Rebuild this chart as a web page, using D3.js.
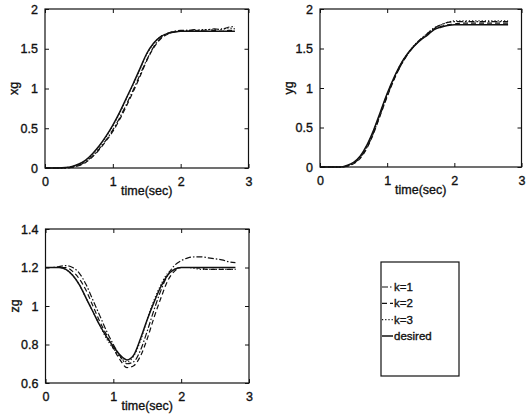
<html>
<head>
<meta charset="UTF-8">
<script src="https://d3js.org/d3.v7.min.js"></script>
<style>
  body { margin: 0; background: white; }
  text { font-family: "Liberation Sans", Arial, sans-serif; fill: #111; stroke: #111; stroke-width: 0.35px; }
</style>
</head>
<body>
<svg id="chart"></svg>
<script>
let width = 529;
let height = 419;

// time grid (sec)
let time = [0,0.1,0.2,0.3,0.4,0.5,0.6,0.7,0.8,0.9,1.0,1.1,1.2,1.3,1.4,1.5,1.6,1.7,1.8,1.9,2.0,2.1,2.2,2.3,2.4,2.5,2.6,2.7,2.8];

let xgDesired = [0,0,0,0.005,0.02,0.05,0.1,0.18,0.28,0.4,0.54,0.7,0.88,1.06,1.25,1.44,1.57,1.65,1.69,1.71,1.72,1.72,1.72,1.72,1.72,1.72,1.72,1.72,1.72];
let xgK1 = [0,0,0,0,0.01,0.035,0.08,0.15,0.24,0.35,0.48,0.63,0.8,0.98,1.17,1.36,1.52,1.63,1.69,1.72,1.73,1.73,1.74,1.73,1.74,1.75,1.74,1.77,1.78];
let xgK2 = [0,0,0,0,0.01,0.03,0.07,0.14,0.23,0.34,0.46,0.61,0.78,0.96,1.15,1.35,1.51,1.62,1.68,1.71,1.72,1.72,1.73,1.72,1.72,1.73,1.72,1.73,1.73];
let xgK3 = [0,0,0,0.004,0.018,0.045,0.095,0.17,0.27,0.39,0.53,0.69,0.87,1.05,1.24,1.43,1.56,1.65,1.69,1.71,1.72,1.73,1.73,1.74,1.74,1.74,1.75,1.76,1.75];

let ygDesired = [0,0,0,0,0.02,0.06,0.14,0.28,0.47,0.7,0.93,1.13,1.3,1.43,1.53,1.61,1.67,1.74,1.77,1.79,1.8,1.8,1.8,1.8,1.8,1.8,1.8,1.8,1.8];
let ygK1 = [0,0,0,0,0.01,0.05,0.12,0.25,0.44,0.67,0.9,1.11,1.28,1.42,1.53,1.62,1.69,1.76,1.8,1.83,1.84,1.84,1.84,1.84,1.84,1.84,1.84,1.84,1.84];
let ygK2 = [0,0,0,0,0.01,0.04,0.11,0.24,0.43,0.66,0.89,1.1,1.28,1.42,1.53,1.61,1.68,1.75,1.78,1.8,1.81,1.82,1.82,1.82,1.82,1.82,1.82,1.82,1.82];
let ygK3 = [0,0,0,0,0.015,0.05,0.13,0.27,0.46,0.69,0.92,1.12,1.3,1.43,1.54,1.62,1.69,1.76,1.8,1.83,1.85,1.85,1.85,1.85,1.85,1.85,1.85,1.85,1.85];

let zgDesired = [1.2,1.2,1.2,1.19,1.16,1.11,1.04,0.97,0.9,0.84,0.79,0.745,0.72,0.745,0.83,0.93,1.02,1.1,1.16,1.19,1.2,1.2,1.2,1.2,1.2,1.2,1.2,1.2,1.2];
let zgK1 = [1.2,1.2,1.205,1.21,1.2,1.17,1.11,1.03,0.95,0.87,0.8,0.74,0.7,0.71,0.77,0.87,0.98,1.08,1.16,1.21,1.235,1.25,1.255,1.255,1.25,1.245,1.24,1.23,1.225];
let zgK2 = [1.2,1.2,1.2,1.2,1.18,1.14,1.08,1.0,0.92,0.85,0.78,0.72,0.68,0.69,0.74,0.83,0.94,1.04,1.13,1.18,1.2,1.2,1.2,1.195,1.19,1.19,1.19,1.19,1.19];
let zgK3 = [1.2,1.2,1.2,1.19,1.16,1.11,1.04,0.97,0.9,0.83,0.78,0.735,0.71,0.74,0.82,0.93,1.03,1.11,1.17,1.19,1.2,1.2,1.195,1.19,1.19,1.19,1.19,1.19,1.19];

let xTicks = [0, 1, 2, 3];
let xyTicks = [0, 0.5, 1, 1.5, 2];
let zTicks = [0.6, 0.8, 1, 1.2, 1.4];
let legendLabels = ["k=1", "k=2", "k=3", "desired"];
let dashes = ["6,2,1.5,2", "5,3", "1.2,2", null];

let svg = d3.select("#chart").attr("width", width).attr("height", height);

function drawPanel(box, yDomain, yTicks, yName, seriesList){
  let x = d3.scaleLinear().domain([0, 3]).range([box.left, box.right]);
  let y = d3.scaleLinear().domain(yDomain).range([box.bottom, box.top]);
  let g = svg.append("g");

  let line = d3.line()
               .x((d, i) => x(time[i]))
               .y(d => y(d))
               .curve(d3.curveMonotoneX);

  seriesList.forEach((s, i) => {
    g.append("path")
     .datum(s)
     .attr("d", line)
     .attr("fill", "none")
     .attr("stroke", "#111")
     .attr("stroke-width", i == 3 ? 1.5 : 1.2)
     .attr("stroke-dasharray", dashes[i]);
  });

  // ticks inside on all four sides
  let tk = 4;
  g.append("g").attr("transform", `translate(0,${box.bottom})`)
   .call(d3.axisBottom(x).tickValues(xTicks).tickSize(-tk).tickPadding(9).tickFormat(d3.format("d")));
  g.append("g").attr("transform", `translate(0,${box.top})`)
   .call(d3.axisTop(x).tickValues(xTicks).tickSize(-tk).tickFormat(""));
  g.append("g").attr("transform", `translate(${box.left},0)`)
   .call(d3.axisLeft(y).tickValues(yTicks).tickSize(-tk).tickPadding(7).tickFormat(d => d));
  g.append("g").attr("transform", `translate(${box.right},0)`)
   .call(d3.axisRight(y).tickValues(yTicks).tickSize(-tk).tickFormat(""));

  g.selectAll(".domain").remove();
  g.selectAll(".tick line").attr("stroke", "#111");
  g.selectAll(".tick text").style("font-size", "12.5px").style("font-family", "Liberation Sans, Arial, sans-serif").attr("fill", "#111");

  g.append("rect")
   .attr("x", box.left).attr("y", box.top)
   .attr("width", box.right - box.left).attr("height", box.bottom - box.top)
   .attr("fill", "none").attr("stroke", "#111").attr("stroke-width", 1.2);

  g.append("text")
   .attr("x", (box.left + box.right) / 2)
   .attr("y", box.bottom + 27)
   .attr("text-anchor", "middle")
   .style("font-size", "12.5px")
   .text("time(sec)");

  g.append("text")
   .attr("transform", `translate(${box.left - 27},${(box.top + box.bottom) / 2}) rotate(-90)`)
   .attr("text-anchor", "middle")
   .style("font-size", "12.5px")
   .text(yName);
}

drawPanel({left: 45, right: 248.5, top: 9, bottom: 168}, [0, 2], xyTicks, "xg", [xgK1, xgK2, xgK3, xgDesired]);
drawPanel({left: 320, right: 521.5, top: 9, bottom: 167}, [0, 2], xyTicks, "yg", [ygK1, ygK2, ygK3, ygDesired]);
drawPanel({left: 45.5, right: 249, top: 229, bottom: 383}, [0.6, 1.4], zTicks, "zg", [zgK1, zgK2, zgK3, zgDesired]);

// legend
let leg = svg.append("g");
leg.append("rect")
   .attr("x", 381).attr("y", 262).attr("width", 78).attr("height", 114)
   .attr("fill", "white").attr("stroke", "#111").attr("stroke-width", 1.2);

let ly = d3.scalePoint().domain(legendLabels).range([287, 336]);
legendLabels.forEach((lab, i) => {
  leg.append("line")
     .attr("x1", 382).attr("x2", 393)
     .attr("y1", ly(lab)).attr("y2", ly(lab))
     .attr("stroke", "#111").attr("stroke-width", i == 3 ? 1.5 : 1.2)
     .attr("stroke-dasharray", dashes[i]);
  leg.append("text")
     .attr("x", 394).attr("y", ly(lab) + 4)
     .style("font-size", "11.5px")
     .text(lab);
});
</script>
</body>
</html>
